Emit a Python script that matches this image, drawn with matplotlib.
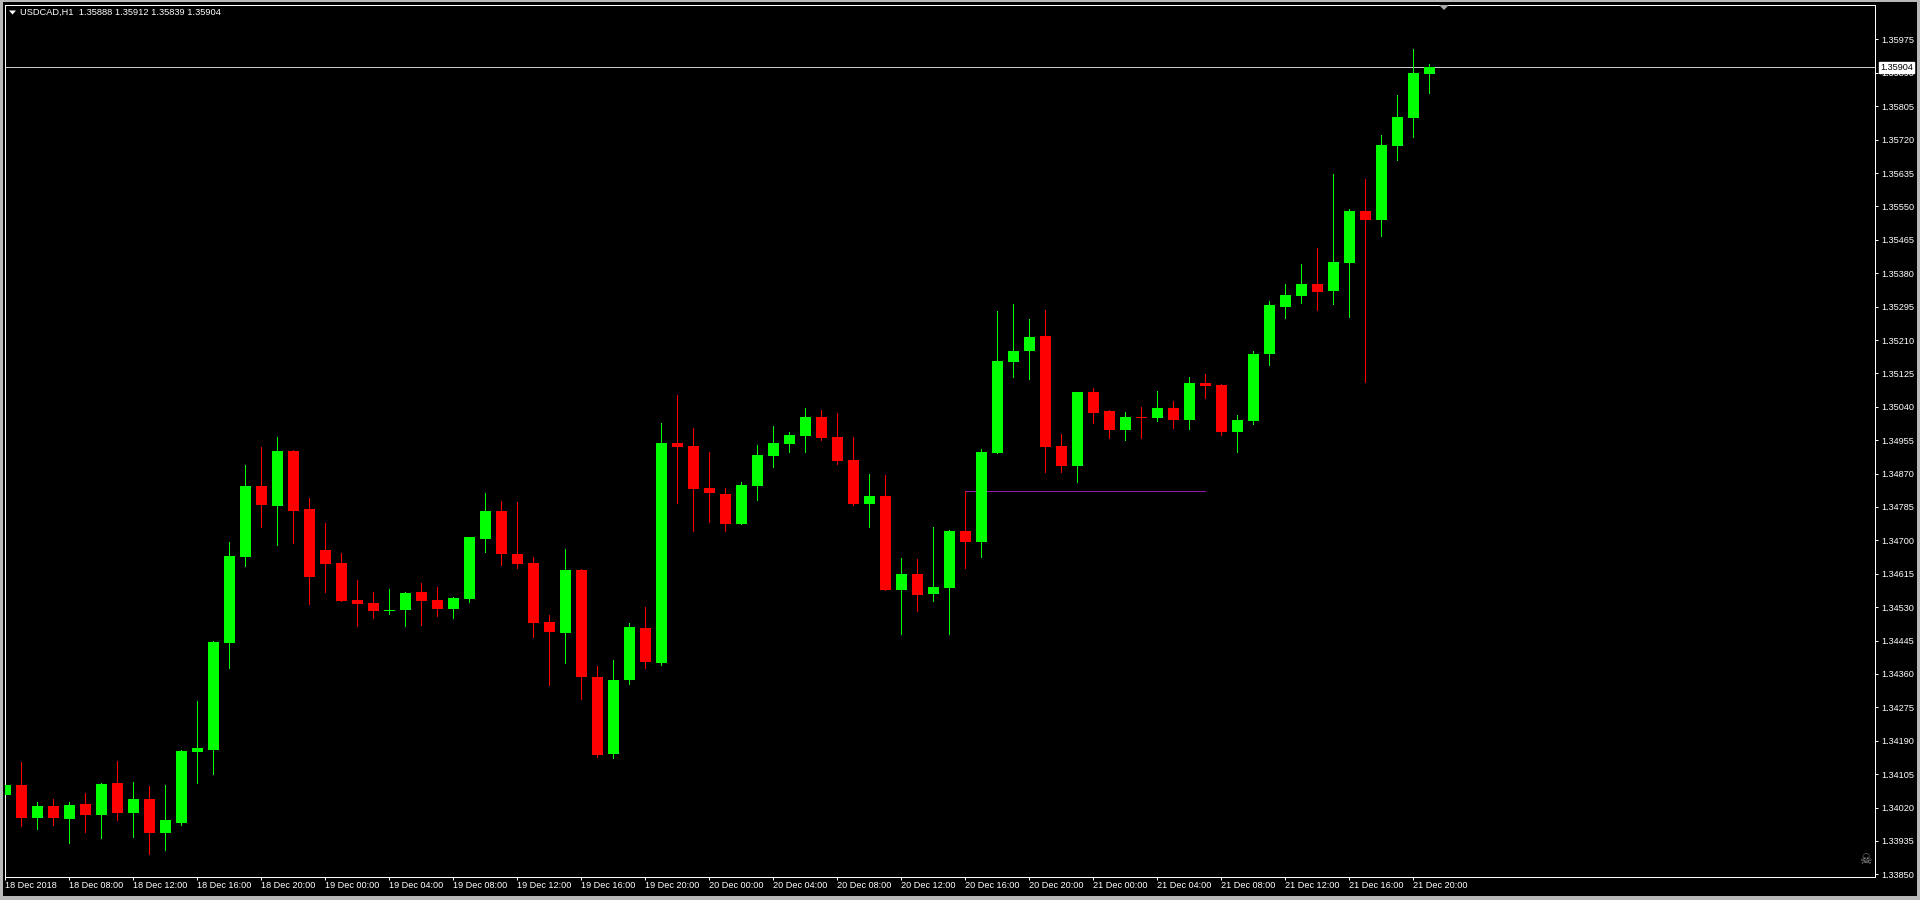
import matplotlib
matplotlib.use("Agg")
import matplotlib.pyplot as plt
from matplotlib.patches import Polygon, Rectangle
import matplotlib.transforms as mtransforms

# ---------------- data ----------------
symbol_title = "USDCAD,H1  1.35888 1.35912 1.35839 1.35904"

opens = [1.34052, 1.34078, 1.33994, 1.34024, 1.33992, 1.34029, 1.34001, 1.34083, 1.34006, 1.34042,
         1.33956, 1.33982, 1.34162, 1.34167, 1.34439, 1.34658, 1.34838, 1.34788, 1.34928, 1.34780,
         1.34676, 1.34642, 1.34548, 1.34541, 1.34520, 1.34523, 1.34569, 1.34548, 1.34525, 1.34551,
         1.34704, 1.34775, 1.34665, 1.34642, 1.34492, 1.34464, 1.34625, 1.34352, 1.34156, 1.34345,
         1.34477, 1.34388, 1.34948, 1.34940, 1.34833, 1.34818, 1.34742, 1.34838, 1.34915, 1.34945,
         1.34966, 1.35014, 1.34963, 1.34905, 1.34793, 1.34813, 1.34574, 1.34614, 1.34564, 1.34579,
         1.34724, 1.34696, 1.34922, 1.35154, 1.35182, 1.35220, 1.34940, 1.34889, 1.35078, 1.35029,
         1.34981, 1.35014, 1.35012, 1.35037, 1.35006, 1.35101, 1.35095, 1.34976, 1.35004, 1.35174,
         1.35294, 1.35322, 1.35353, 1.35335, 1.35406, 1.35538, 1.35515, 1.35704, 1.35775, 1.35888]
highs = [1.34090, 1.34136, 1.34034, 1.34042, 1.34034, 1.34057, 1.34083, 1.34139, 1.34085, 1.34075,
         1.34078, 1.34167, 1.34291, 1.34444, 1.34696, 1.34892, 1.34938, 1.34963, 1.34930, 1.34808,
         1.34744, 1.34668, 1.34599, 1.34569, 1.34576, 1.34569, 1.34592, 1.34581, 1.34556, 1.34709,
         1.34821, 1.34800, 1.34798, 1.34658, 1.34510, 1.34678, 1.34627, 1.34380, 1.34396, 1.34490,
         1.34531, 1.34999, 1.35070, 1.34986, 1.34925, 1.34833, 1.34849, 1.34943, 1.34991, 1.34976,
         1.35037, 1.35032, 1.35024, 1.34963, 1.34869, 1.34866, 1.34655, 1.34653, 1.34734, 1.34726,
         1.34826, 1.34933, 1.35284, 1.35302, 1.35263, 1.35286, 1.34971, 1.35078, 1.35088, 1.35032,
         1.35027, 1.35040, 1.35080, 1.35055, 1.35116, 1.35124, 1.35098, 1.35019, 1.35182, 1.35309,
         1.35353, 1.35403, 1.35444, 1.35632, 1.35543, 1.35620, 1.35732, 1.35834, 1.35951, 1.35912]
lows = [1.34032, 1.33974, 1.33966, 1.33976, 1.33931, 1.33959, 1.33943, 1.33989, 1.33946, 1.33903,
        1.33913, 1.33976, 1.34083, 1.34106, 1.34375, 1.34635, 1.34734, 1.34688, 1.34693, 1.34538,
        1.34569, 1.34546, 1.34482, 1.34502, 1.34513, 1.34482, 1.34485, 1.34508, 1.34502, 1.34543,
        1.34671, 1.34637, 1.34630, 1.34454, 1.34332, 1.34388, 1.34296, 1.34149, 1.34146, 1.34335,
        1.34375, 1.34383, 1.34795, 1.34724, 1.34747, 1.34724, 1.34742, 1.34803, 1.34887, 1.34925,
        1.34925, 1.34956, 1.34894, 1.34790, 1.34734, 1.34574, 1.34462, 1.34520, 1.34546, 1.34462,
        1.34630, 1.34658, 1.34922, 1.35116, 1.35111, 1.34874, 1.34874, 1.34849, 1.34999, 1.34961,
        1.34956, 1.34961, 1.35004, 1.34986, 1.34983, 1.35062, 1.34968, 1.34925, 1.34996, 1.35146,
        1.35266, 1.35304, 1.35286, 1.35302, 1.35269, 1.35103, 1.35475, 1.35668, 1.35727, 1.35839]
closes = [1.34078, 1.33994, 1.34024, 1.33994, 1.34027, 1.34001, 1.34080, 1.34006, 1.34042, 1.33956,
          1.33988, 1.34164, 1.34172, 1.34441, 1.34660, 1.34838, 1.34790, 1.34928, 1.34775, 1.34607,
          1.34640, 1.34546, 1.34538, 1.34520, 1.34523, 1.34566, 1.34546, 1.34525, 1.34553, 1.34709,
          1.34775, 1.34665, 1.34640, 1.34490, 1.34467, 1.34625, 1.34352, 1.34154, 1.34345, 1.34480,
          1.34391, 1.34948, 1.34938, 1.34831, 1.34821, 1.34742, 1.34841, 1.34917, 1.34948, 1.34968,
          1.35014, 1.34961, 1.34902, 1.34793, 1.34813, 1.34574, 1.34614, 1.34561, 1.34581, 1.34724,
          1.34696, 1.34925, 1.35157, 1.35182, 1.35218, 1.34938, 1.34889, 1.35078, 1.35024, 1.34981,
          1.35014, 1.35012, 1.35037, 1.35006, 1.35101, 1.35093, 1.34976, 1.35006, 1.35174, 1.35299,
          1.35325, 1.35353, 1.35332, 1.35409, 1.35538, 1.35515, 1.35706, 1.35778, 1.35890, 1.35904]

x_tick_labels = ["18 Dec 2018", "18 Dec 08:00", "18 Dec 12:00", "18 Dec 16:00", "18 Dec 20:00",
                 "19 Dec 00:00", "19 Dec 04:00", "19 Dec 08:00", "19 Dec 12:00", "19 Dec 16:00",
                 "19 Dec 20:00", "20 Dec 00:00", "20 Dec 04:00", "20 Dec 08:00", "20 Dec 12:00",
                 "20 Dec 16:00", "20 Dec 20:00", "21 Dec 00:00", "21 Dec 04:00", "21 Dec 08:00",
                 "21 Dec 12:00", "21 Dec 16:00", "21 Dec 20:00"]
x_tick_bars = [0, 4, 8, 12, 16, 20, 24, 28, 32, 36, 40, 44, 48, 52, 56, 60, 64, 68, 72, 76, 80, 84, 88]

price_ticks = [1.33850, 1.33935, 1.34020, 1.34105, 1.34190, 1.34275, 1.34360, 1.34445, 1.34530,
               1.34615, 1.34700, 1.34785, 1.34870, 1.34955, 1.35040, 1.35125, 1.35210, 1.35295,
               1.35380, 1.35465, 1.35550, 1.35635, 1.35720, 1.35805, 1.35890, 1.35975]

current_price = 1.35904
trend_level = 1.34826
trend_bars = [60, 75]

# ---------------- style ----------------
BULL = "#00FF00"
BEAR = "#FF0000"
FG = "white"
FONT = "Liberation Sans"
W, H = 1920, 900
PX = 0.72  # one pixel in points at dpi 100

fig = plt.figure(figsize=(W / 100, H / 100), dpi=100, facecolor="black")

# chart area (pixels): x 5..1875, y 5..877
ax = fig.add_axes([5 / W, (H - 877) / H, 1870 / W, 872 / H], facecolor="black")

n = len(opens)
xs = list(range(n))
colors = [BULL if c >= o else BEAR for o, c in zip(opens, closes)]

ax.vlines(xs, lows, highs, colors=colors, linewidth=PX, antialiased=False, zorder=2)
bottoms = [min(o, c) for o, c in zip(opens, closes)]
heights = [max(abs(c - o), 0.00003) for o, c in zip(opens, closes)]
ax.bar(xs, heights, bottom=bottoms, width=0.6875, color=colors, linewidth=0,
       antialiased=False, zorder=3)

# current price line
ax.axhline(current_price, color="#C8C8C8", linewidth=PX, zorder=1.5)
# drawn trend line
ax.plot(trend_bars, [trend_level, trend_level], color="#8E16AA", linewidth=PX,
        antialiased=False, zorder=1.6)

ax.set_xlim(-0.019, 116.856)
ax.set_ylim(1.338433, 1.360626)

# axes styling
for sp in ax.spines.values():
    sp.set_color(FG)
    sp.set_linewidth(PX)

ax.yaxis.tick_right()
ax.set_yticks(price_ticks)
ax.set_yticklabels([f"{p:.5f}" for p in price_ticks])
ax.tick_params(axis="y", colors=FG, length=2.2, width=PX, pad=2.2, labelsize=6.6,
               direction="out")
ax.set_xticks(x_tick_bars)
ax.set_xticklabels(x_tick_labels)
ax.tick_params(axis="x", colors=FG, length=2.2, width=PX, pad=1.0, labelsize=6.6,
               direction="out")
for lbl in ax.get_xticklabels():
    lbl.set_horizontalalignment("left")
    lbl.set_fontfamily(FONT)
for lbl in ax.get_yticklabels():
    lbl.set_fontfamily(FONT)

# current price tag
trans = mtransforms.blended_transform_factory(ax.transAxes, ax.transData)
ax.text(1.0028, current_price, f"{current_price:.5f}", transform=trans, ha="left", va="center",
        fontsize=6.6, family=FONT, color="black", clip_on=False, zorder=20,
        bbox=dict(boxstyle="square,pad=0.12", facecolor="white", edgecolor="white"))

# header
fig.text(20 / W, 1 - 12.5 / H, symbol_title, color=FG, fontsize=6.7, family=FONT,
         ha="left", va="center")


def px(pts):
    return [(x / W, 1 - y / H) for x, y in pts]


fig.patches.append(Polygon(px([(9, 10.5), (16, 10.5), (12.5, 14.5)]), closed=True,
                           facecolor=FG, edgecolor="none", transform=fig.transFigure))
# chart shift marker
fig.patches.append(Polygon(px([(1439, 5), (1449, 5), (1444, 10)]), closed=True,
                           facecolor="#A8A8A8", edgecolor="none", transform=fig.transFigure))

# window frame
frame_col = "#B8B8B8"
for (x0, y0, w, h) in [(0, 0, W, 1.5), (0, 0, 2.5, H), (W - 3, 0, 3, H), (0, H - 4, W, 4)]:
    fig.patches.append(Rectangle((x0 / W, 1 - (y0 + h) / H), w / W, h / H,
                                 facecolor=frame_col, edgecolor="none",
                                 transform=fig.transFigure))

# skull icon bottom-right
fig.text(1865 / W, 1 - 860 / H, "\u2620", color="#8C8C8C", fontsize=10,
         family="DejaVu Sans", ha="center", va="center")

fig.savefig("out.png", dpi=100, facecolor="black")
